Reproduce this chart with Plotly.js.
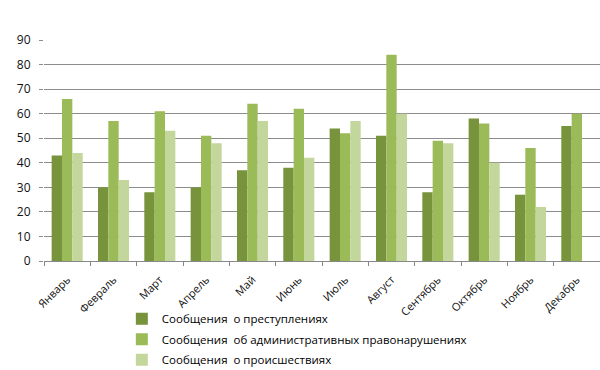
<!DOCTYPE html>
<html><head><meta charset="utf-8">
<script src="https://cdn.plot.ly/plotly-3.0.1.min.js"></script>
<style>html,body{margin:0;padding:0;background:#fff}#chart{width:600px;height:370px}</style>
</head><body><div id="chart"></div>
<script>
const months = ["Январь","Февраль","Март","Апрель","Май","Июнь","Июль","Август","Сентябрь","Октябрь","Ноябрь","Декабрь"];
const crimes = [43,30,28,30,37,38,54,51,28,58,27,55];
const adminOffenses = [66,57,61,51,64,62,52,84,49,56,46,60];
const incidents = [44,33,53,48,57,42,57,60,48,40,22,null];
const seriesNames = ["Сообщения  о преступлениях","Сообщения  об административных правонарушениях","Сообщения  о происшествиях"];
const colors = ["#77933C","#9BBB59","#C3D69B"];
const font = "Open Sans, Liberation Sans, sans-serif";
const data = [crimes, adminOffenses, incidents].map((v,i)=>({
  type:"bar", x:months, y:v, name:seriesNames[i], legendgroup:"g"+i, marker:{color:colors[i]}
}));
const layout = {
  width:600, height:370,
  margin:{l:44, r:0, t:40, b:109, autoexpand:false},
  paper_bgcolor:"#fff", plot_bgcolor:"#fff",
  barmode:"group", bargap:0.33, bargroupgap:0,
  font:{family:font, size:11, color:"#000"},
  showlegend:true,
  legend:{orientation:"v", x:0.14, xanchor:"left", y:-0.196, yanchor:"top", bgcolor:"rgba(0,0,0,0)",
    font:{family:font, size:11.5, color:"#000"}, tracegroupgap:1.5, itemwidth:30},
  xaxis:{type:"category", tickangle:-45, showgrid:false, showline:true, linecolor:"#888", linewidth:1,
    ticks:"outside", tickson:"boundaries", ticklen:4, tickcolor:"#888", ticklabelstandoff:7, automargin:false,
    tickfont:{family:font, size:11, color:"#111"}, zeroline:false},
  yaxis:{range:[0,90], dtick:10, showgrid:true, gridcolor:"#8c8c8c", gridwidth:1, showline:false, automargin:false,
    ticks:"outside", ticklen:4, tickcolor:"#8c8c8c", zeroline:false, ticklabelstandoff:6,
    tickfont:{family:font, size:12, color:"#111"}}
};
Plotly.newPlot("chart", data, layout, {displayModeBar:false, staticPlot:true});
</script></body></html>
